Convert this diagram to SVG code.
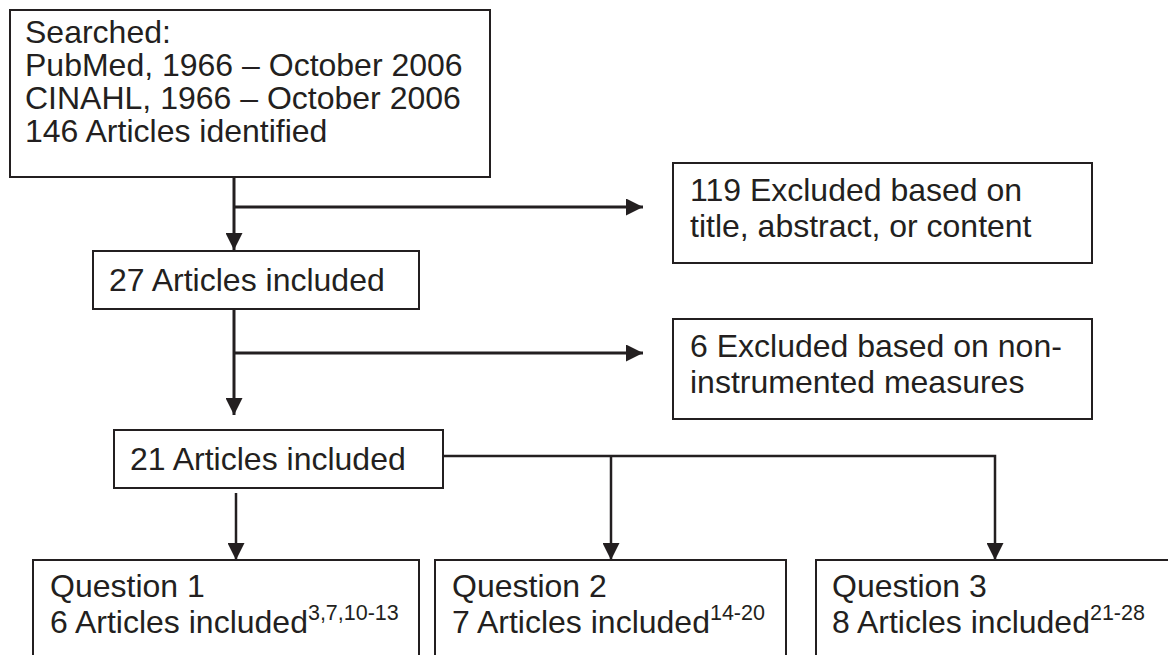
<svg xmlns="http://www.w3.org/2000/svg" width="1168" height="655" viewBox="0 0 1168 655">
<defs>
<style>
.box{fill:#fff;stroke:#231f20;stroke-width:2}
.t{font-family:"Liberation Sans",Arial,sans-serif;font-size:32px;fill:#231f20}
.sup{font-size:21.5px}
.c{fill:none;stroke:#231f20;stroke-width:3}
.c2{fill:none;stroke:#231f20;stroke-width:2.5}
</style>
<marker id="ah" viewBox="0 0 17 17" refX="17" refY="8.5" markerWidth="17" markerHeight="17" markerUnits="userSpaceOnUse" orient="auto">
<path d="M0,0 L17,8.5 L0,17 z" fill="#231f20"/>
</marker>
</defs>
<rect width="1168" height="655" fill="#fff"/>
<g id="connectors">
<path class="c" d="M234,177 V250" marker-end="url(#ah)"/>
<path class="c" d="M234,207 H643" marker-end="url(#ah)"/>
<path class="c" d="M234,309 V415" marker-end="url(#ah)"/>
<path class="c" d="M234,353 H643" marker-end="url(#ah)"/>
<path class="c2" d="M236,493 V560" marker-end="url(#ah)"/>
<path class="c2" d="M443,456 H995 V560" marker-end="url(#ah)"/>
<path class="c2" d="M611,456 V560" marker-end="url(#ah)"/>
</g>
<g id="search">
<rect class="box" x="10" y="10" width="480" height="167"/>
<text class="t" x="25" y="43">Searched:</text>
<text class="t" x="25" y="76">PubMed, 1966 – October 2006</text>
<text class="t" x="25" y="109">CINAHL, 1966 – October 2006</text>
<text class="t" x="25" y="142">146 Articles identified</text>
</g>
<g id="excluded119">
<rect class="box" x="673" y="163" width="419" height="100"/>
<text class="t" x="690" y="201">119 Excluded based on</text>
<text class="t" x="690" y="237">title, abstract, or content</text>
</g>
<g id="included27">
<rect class="box" x="93" y="251" width="326" height="58"/>
<text class="t" x="109" y="291">27 Articles included</text>
</g>
<g id="excluded6">
<rect class="box" x="673" y="319" width="419" height="100"/>
<text class="t" x="690" y="357">6 Excluded based on non-</text>
<text class="t" x="690" y="393">instrumented measures</text>
</g>
<g id="included21">
<rect class="box" x="114" y="430" width="329" height="58"/>
<text class="t" x="130" y="470">21 Articles included</text>
</g>
<g id="question1">
<rect class="box" x="33" y="560" width="386" height="130"/>
<text class="t" x="50" y="597">Question 1</text>
<text class="t" x="50" y="633">6 Articles included<tspan class="sup" dy="-13">3,7,10-13</tspan></text>
</g>
<g id="question2">
<rect class="box" x="435" y="560" width="351" height="130"/>
<text class="t" x="452" y="597">Question 2</text>
<text class="t" x="452" y="633">7 Articles included<tspan class="sup" dy="-13">14-20</tspan></text>
</g>
<g id="question3">
<rect class="box" x="816" y="560" width="380" height="130"/>
<text class="t" x="832" y="597">Question 3</text>
<text class="t" x="832" y="633">8 Articles included<tspan class="sup" dy="-13">21-28</tspan></text>
</g>
</svg>
